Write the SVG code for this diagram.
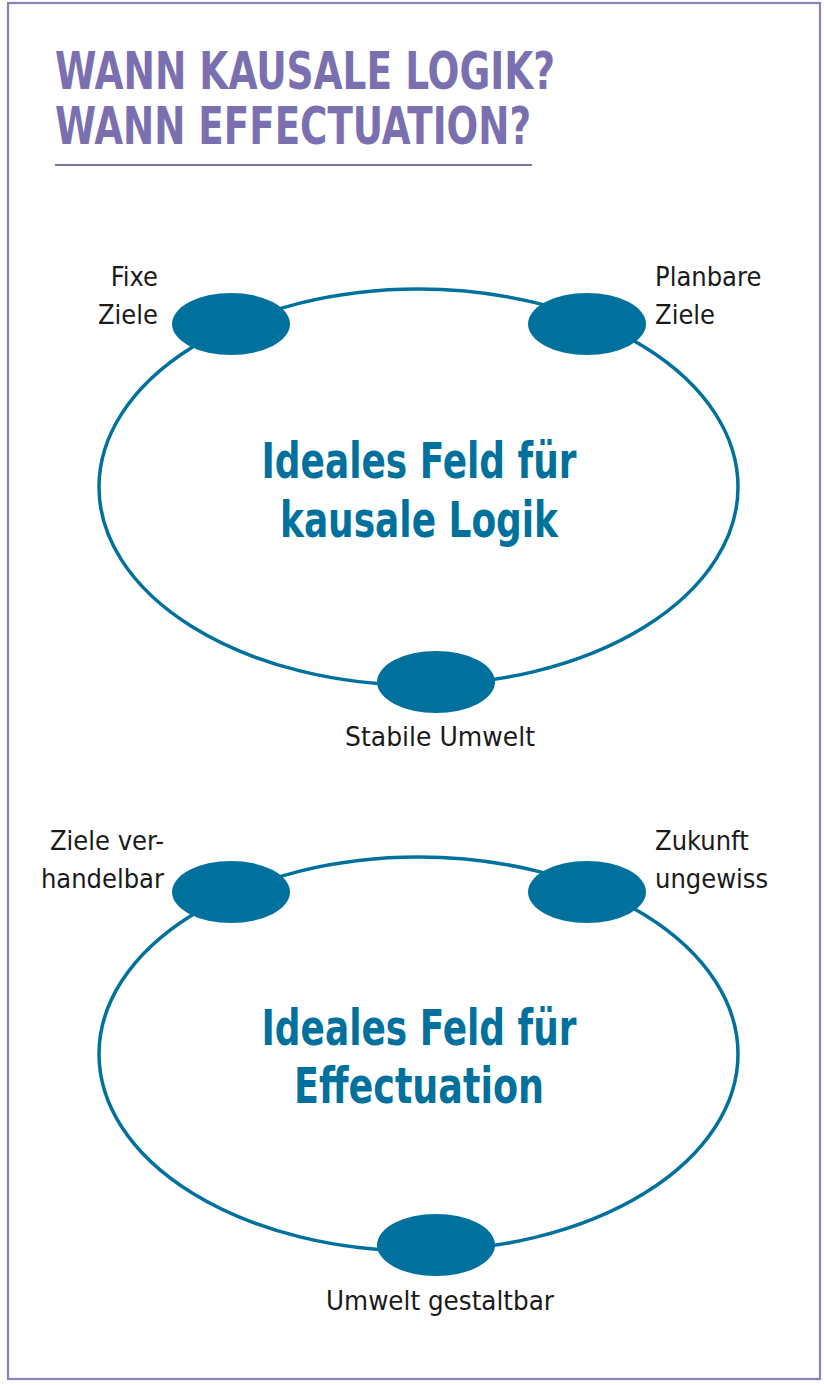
<svg xmlns="http://www.w3.org/2000/svg" width="824" height="1385" viewBox="0 0 824 1385">
<style>
.title{font-family:"Liberation Sans Narrow","DejaVu Sans Condensed","Liberation Sans",sans-serif;font-weight:bold;font-size:52px;fill:#7a70b0}
.big{fill:none;stroke:#00719c;stroke-width:3.5}
.dot{fill:#00719c}
.lbl{font-family:"Liberation Sans Narrow","DejaVu Sans Condensed","Liberation Sans",sans-serif;font-size:27px;fill:#1a1a1a}
.ctr{font-family:"Liberation Sans Narrow","DejaVu Sans Condensed","Liberation Sans",sans-serif;font-weight:bold;font-size:49px;fill:#00719c;text-anchor:middle}
</style>
<rect x="8" y="3" width="812" height="1376" fill="#fff" stroke="#8a80bd" stroke-width="2.2"/>
<g id="title">
<text class="title" x="55" y="89" textLength="500" lengthAdjust="spacingAndGlyphs">WANN KAUSALE LOGIK?</text>
<text class="title" x="55" y="144" textLength="476" lengthAdjust="spacingAndGlyphs">WANN EFFECTUATION?</text>
<line x1="55" y1="165" x2="532" y2="165" stroke="#7a70b0" stroke-width="2"/>
</g>
<g id="field1">
<ellipse class="big" cx="418.5" cy="487" rx="319.5" ry="198"/>
<text class="ctr" x="419" y="478" textLength="315" lengthAdjust="spacingAndGlyphs">Ideales Feld für</text>
<text class="ctr" x="419" y="537" textLength="278" lengthAdjust="spacingAndGlyphs">kausale Logik</text>
</g>
<g id="fixe-ziele">
<ellipse class="dot" cx="231" cy="324" rx="59" ry="31"/>
<text class="lbl" x="158" y="286" text-anchor="end">Fixe</text>
<text class="lbl" x="158" y="324" text-anchor="end">Ziele</text>
</g>
<g id="planbare-ziele">
<ellipse class="dot" cx="587" cy="324" rx="59" ry="31"/>
<text class="lbl" x="655" y="286">Planbare</text>
<text class="lbl" x="655" y="324">Ziele</text>
</g>
<g id="stabile-umwelt">
<ellipse class="dot" cx="436" cy="682" rx="59" ry="31"/>
<text class="lbl" x="440" y="746" text-anchor="middle" textLength="190" lengthAdjust="spacingAndGlyphs">Stabile Umwelt</text>
</g>
<g id="field2">
<ellipse class="big" cx="418.5" cy="1054" rx="319.5" ry="197"/>
<text class="ctr" x="419" y="1045" textLength="315" lengthAdjust="spacingAndGlyphs">Ideales Feld für</text>
<text class="ctr" x="419" y="1103" textLength="250" lengthAdjust="spacingAndGlyphs">Effectuation</text>
</g>
<g id="ziele-verhandelbar">
<ellipse class="dot" cx="231" cy="892" rx="59" ry="31"/>
<text class="lbl" x="164" y="850" text-anchor="end">Ziele ver-</text>
<text class="lbl" x="164" y="888" text-anchor="end">handelbar</text>
</g>
<g id="zukunft-ungewiss">
<ellipse class="dot" cx="587" cy="892" rx="59" ry="31"/>
<text class="lbl" x="655" y="850">Zukunft</text>
<text class="lbl" x="655" y="888">ungewiss</text>
</g>
<g id="umwelt-gestaltbar">
<ellipse class="dot" cx="436" cy="1245" rx="59" ry="31"/>
<text class="lbl" x="440" y="1310" text-anchor="middle" textLength="228" lengthAdjust="spacingAndGlyphs">Umwelt gestaltbar</text>
</g>
</svg>
